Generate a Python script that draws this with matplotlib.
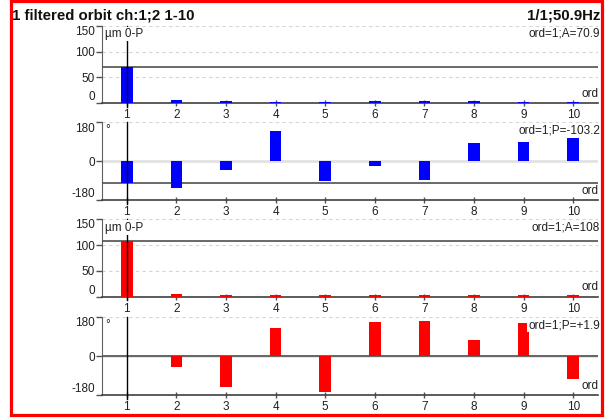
import matplotlib
matplotlib.use("Agg")
import matplotlib.pyplot as plt
from matplotlib.patches import Rectangle

plt.rcParams['font.family'] = ['Liberation Sans', 'DejaVu Sans']

# ---- data ----
orders = [1, 2, 3, 4, 5, 6, 7, 8, 9, 10]
ch1_amp = [70.9, 5.5, 3.5, 2, 2, 3.5, 3.5, 3.5, 2, 2]
ch1_phase = [-103.2, -125, -41, 141, -91, -20, -85, 83, 88, 106]
ch2_amp = [108, 5, 3.3, 2, 2, 3.3, 3.3, 3.3, 2, 2]
ch2_phase = [1.9, -52, -145, 130, -166, 156, 163, 76, 151, -108]
amp_ticks = [0, 50, 100, 150]
phase_ticks = [-180, 0, 180]
title_left = "1 filtered orbit ch:1;2 1-10"
title_right = "1/1;50.9Hz"
cursor_order = 1

W, H = 607, 419
fig = plt.figure(figsize=(W / 100, H / 100), dpi=100)
fig.patch.set_facecolor('white')

# red frame
fig.patches.append(Rectangle((10.5 / W, 1 - 415 / H), (602 - 10.5) / W, (415 - 1.5) / H,
                             transform=fig.transFigure, fill=False, edgecolor='#ff0000',
                             linewidth=2.3, zorder=10))

fig.text(12 / W, 1 - 15 / H, title_left, ha='left', va='center', fontsize=10.8,
         fontweight='bold', color='#101010')
fig.text(600 / W, 1 - 15 / H, title_right, ha='right', va='center', fontsize=10.8,
         fontweight='bold', color='#101010')

left, right = 102, 598
panels = [
    (26, 103, ch1_amp, 'amp', '#0000ff', "µm 0-P", "ord=1;A=70.9"),
    (122.5, 200, ch1_phase, 'phase', '#0000ff', "°", "ord=1;P=-103.2"),
    (219.5, 296.5, ch2_amp, 'amp', '#ff0000', "µm 0-P", "ord=1;A=108"),
    (317, 395, ch2_phase, 'phase', '#ff0000', "°", "ord=1;P=+1.9"),
]

fs = 8.5
for top, bottom, vals, kind, color, unit, cursor_txt in panels:
    ax = fig.add_axes([left / W, 1 - bottom / H, (right - left) / W, (bottom - top) / H])
    ax.set_xlim(0.5, 10.5)
    if kind == 'amp':
        ax.set_ylim(0, 150)
        ticks = amp_ticks
        for g in [50, 100, 150]:
            ax.axhline(g, color='#d4d4d4', lw=0.8, ls=(0, (3, 3)), zorder=1)
    else:
        ax.set_ylim(-180, 180)
        ticks = phase_ticks
        ax.axhline(180, color='#d4d4d4', lw=0.8, ls=(0, (3, 3)), zorder=1)
        ax.axhline(0, color='#e2e2e2', lw=2.0, zorder=1)
    ax.bar(orders, vals, width=0.23, color=color, zorder=2.55)
    cur = vals[orders.index(cursor_order)]
    ax.axhline(cur, color='#505050', lw=1.2, zorder=2.52)
    ax.axvline(cursor_order, ymin=-0.05, ymax=1, color='black', lw=1, zorder=2.6, clip_on=False)

    ax.set_yticks(ticks)
    ax.set_yticklabels([str(t) for t in ticks])
    labs = ax.get_yticklabels()
    labs[0].set_verticalalignment('bottom')
    labs[-1].set_verticalalignment('top')
    ax.set_xticks(orders)
    ax.set_xticklabels([str(o) for o in orders])
    ax.tick_params(axis='y', direction='out', length=4, width=1, pad=1, labelsize=fs,
                   colors='#505050', labelcolor='#202020')
    ax.tick_params(axis='x', direction='inout', length=5, width=1, pad=2, labelsize=fs,
                   colors='#505050', labelcolor='#202020')
    for s in ['top', 'right']:
        ax.spines[s].set_visible(False)
    ax.spines['left'].set_color('#606060')
    ax.spines['bottom'].set_color('#404040')
    ax.spines['bottom'].set_linewidth(1.2)
    ax.set_facecolor('white')

    bb = dict(boxstyle='square,pad=0.1', fc='white', ec='none')
    ax.annotate(unit, xy=(0, 1), xycoords='axes fraction', xytext=(3, -8),
                textcoords='offset pixels', ha='left', va='center', fontsize=fs,
                color='#202020', bbox=bb, zorder=5, annotation_clip=False)
    ax.annotate(cursor_txt, xy=(1, 1), xycoords='axes fraction', xytext=(2, -8),
                textcoords='offset pixels', ha='right', va='center', fontsize=fs,
                color='#202020', bbox=bb, zorder=5, annotation_clip=False)
    ax.annotate("ord", xy=(1, 0), xycoords='axes fraction', xytext=(0, 9),
                textcoords='offset pixels', ha='right', va='center', fontsize=fs,
                color='#202020', bbox=bb, zorder=5, annotation_clip=False)

fig.savefig("out.png", dpi=100, facecolor='white')
